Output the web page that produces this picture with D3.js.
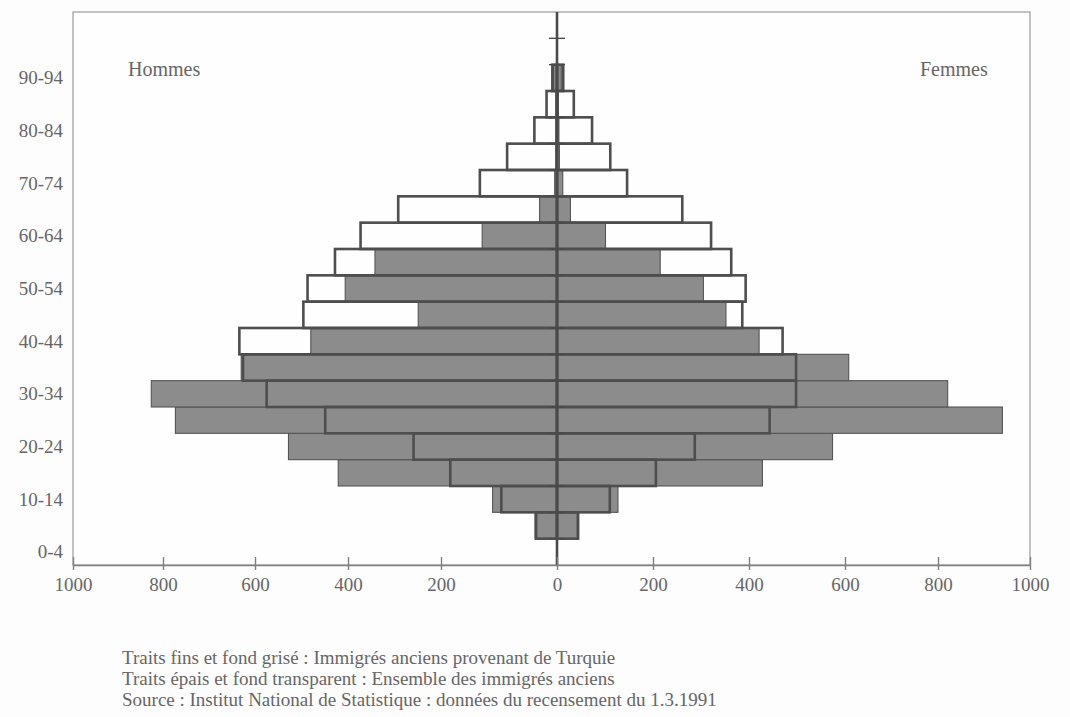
<!DOCTYPE html>
<html>
<head>
<meta charset="utf-8">
<script src="https://cdn.jsdelivr.net/npm/d3@7"></script>
<style>
  html, body { margin: 0; padding: 0; background: #fdfdfd; }
  svg { display: block; }
  text { font-family: "Liberation Serif", "Times New Roman", serif; fill: #666; }
</style>
</head>
<body>
<svg id="chart" width="1070" height="717"></svg>
<script>
// ---- data ----
const ageGroups = ["0-4","5-9","10-14","15-19","20-24","25-29","30-34","35-39","40-44","45-49",
                   "50-54","55-59","60-64","65-69","70-74","75-79","80-84","85-89","90-94","95-99","100+"];
const ageTickLabels = ["0-4","10-14","20-24","30-34","40-44","50-54","60-64","70-74","80-84","90-94"];
// Immigrés anciens provenant de Turquie (fond grisé, traits fins)
const menTurkey   = [0, 38, 111, 421, 528, 773, 826, 630, 480, 249, 406, 342, 129, 30, 4, 2, 2, 2, 6, 0, 0];
const womenTurkey = [0, 42, 127, 428, 574, 940, 821, 608, 421, 352, 305, 215, 101, 28, 12, 5, 4, 3, 9, 0, 0];
// Ensemble des immigrés anciens (traits épais, fond transparent)
const menTotal    = [0, 36, 96, 184, 259, 449, 575, 626, 634, 496, 487, 428, 373, 292, 133, 86, 39, 18, 8, 0, 0];
const womenTotal  = [0, 44, 110, 206, 287, 443, 498, 498, 470, 386, 393, 363, 321, 261, 146, 111, 73, 35, 13, 0, 0];
const xTicks = [-1000, -800, -600, -400, -200, 0, 200, 400, 600, 800, 1000];
const sideLabels = ["Hommes", "Femmes"];
const notes = [
  "Traits fins et fond grisé : Immigrés anciens provenant de Turquie",
  "Traits épais et fond transparent : Ensemble des immigrés anciens",
  "Source : Institut National de Statistique : données du recensement du 1.3.1991"
];

// ---- layout ----
const plot = { left: 73, right: 1030, top: 12, bottom: 565 };
// pixel position of each value tick (the printed axis is not evenly spaced)
const tickPx = [73, 163, 255, 348, 441, 557, 653, 749, 845, 938, 1030];
const svg = d3.select("#chart");

const x = d3.scaleLinear().domain(xTicks).range(tickPx);
const y = d3.scaleBand().domain(ageGroups).range([plot.bottom, plot.top]).padding(0);

// frame
svg.append("rect")
  .attr("x", plot.left).attr("y", plot.top)
  .attr("width", plot.right - plot.left).attr("height", plot.bottom - plot.top)
  .attr("fill", "#fefefe").attr("stroke", "#9a9a9a").attr("stroke-width", 1.2);

function rows(sex, values) {
  return ageGroups.map((a, i) => ({ age: a, v: values[i], sex }));
}
const grey = rows("m", menTurkey).concat(rows("f", womenTurkey)).filter(d => d.v > 0);
const total = rows("m", menTotal).concat(rows("f", womenTotal)).filter(d => d.v > 0);

function bx(d) { return d.sex === "m" ? x(-d.v) : x(0); }
function bw(d) { return d.sex === "m" ? x(0) - x(-d.v) : x(d.v) - x(0); }

// grey bars
svg.append("g").selectAll("rect").data(grey).join("rect")
  .attr("x", bx).attr("y", d => y(d.age))
  .attr("width", bw).attr("height", y.bandwidth())
  .attr("fill", "#8c8c8c").attr("stroke", "#555").attr("stroke-width", 1.1);

// transparent thick outlines
svg.append("g").selectAll("rect").data(total).join("rect")
  .attr("x", bx).attr("y", d => y(d.age))
  .attr("width", bw).attr("height", y.bandwidth())
  .attr("fill", "none").attr("stroke", "#4e4e4e").attr("stroke-width", 2.6);

// central category axis with crossing ticks
const cx = x(0);
svg.append("line")
  .attr("x1", cx).attr("x2", cx).attr("y1", plot.top).attr("y2", plot.bottom)
  .attr("stroke", "#4a4a4a").attr("stroke-width", 2.6);
const bounds = ageGroups.slice(1).map(a => y(a) + y.bandwidth());
svg.append("g").selectAll("line").data(bounds).join("line")
  .attr("x1", cx - 8).attr("x2", cx + 8)
  .attr("y1", d => d).attr("y2", d => d)
  .attr("stroke", "#4a4a4a").attr("stroke-width", 1.4);

// y labels
svg.append("g").selectAll("text").data(ageTickLabels).join("text")
  .attr("x", plot.left - 10)
  .attr("y", d => y(d) + y.bandwidth() / 2)
  .attr("dy", "0.35em")
  .attr("text-anchor", "end")
  .attr("font-size", 19)
  .text(d => d);

// x axis
const xAxis = d3.axisBottom(x).tickValues(xTicks).tickFormat(d => Math.abs(d)).tickSize(0);
const gx = svg.append("g").attr("transform", `translate(0,${plot.bottom})`).call(xAxis);
gx.select(".domain").attr("stroke", "#808080").attr("stroke-width", 1.5);
gx.selectAll(".tick text")
  .attr("y", 19).attr("dy", "0.35em")
  .attr("font-size", 19).attr("font-family", "Liberation Serif").attr("fill", "#666");
gx.selectAll(".tick").append("line")
  .attr("y1", -8).attr("y2", 5).attr("stroke", "#808080").attr("stroke-width", 1.4);

// side labels
svg.append("text").attr("x", 128).attr("y", 76).attr("font-size", 20).text(sideLabels[0]);
svg.append("text").attr("x", 920).attr("y", 76).attr("font-size", 20).text(sideLabels[1]);

// notes
svg.append("g").selectAll("text").data(notes).join("text")
  .attr("x", 122)
  .attr("y", (d, i) => 664 + i * 21)
  .attr("font-size", 19)
  .text(d => d);
</script>
</body>
</html>
